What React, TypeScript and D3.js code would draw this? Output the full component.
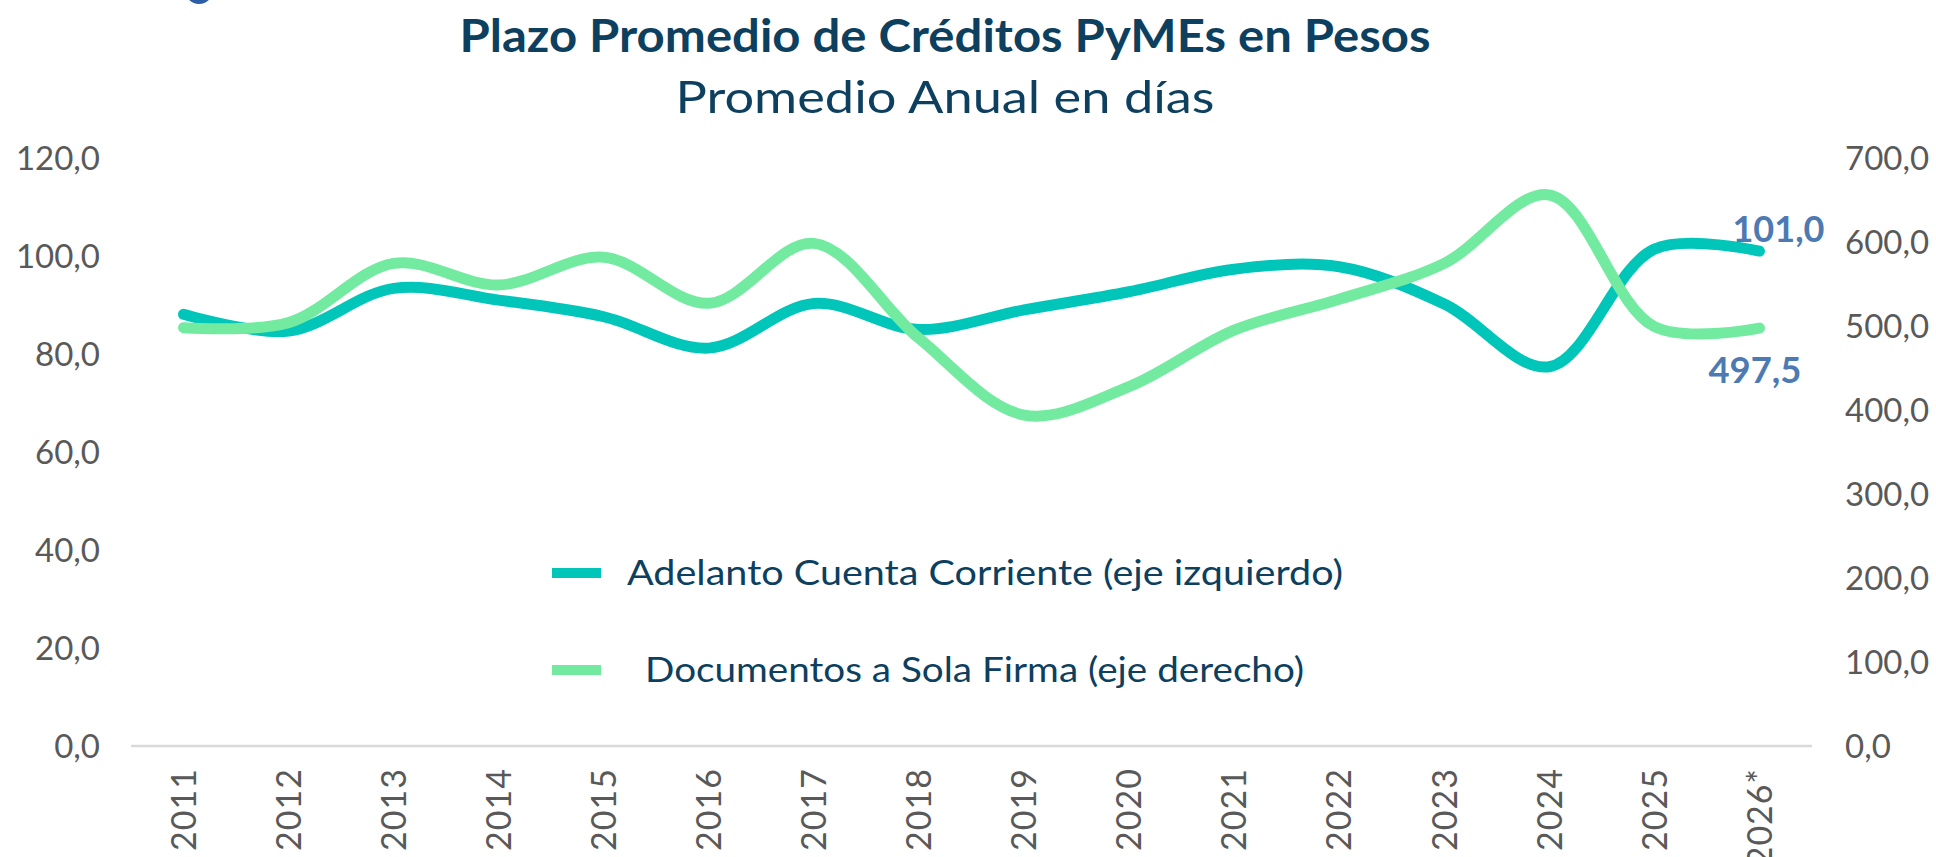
import React from "react";
import * as d3 from "d3";

// values
const years = ["2011", "2012", "2013", "2014", "2015", "2016", "2017", "2018",
    "2019", "2020", "2021", "2022", "2023", "2024", "2025", "2026*"];
const adelanto = [88.1, 84.7, 93.4, 91.0, 87.6, 81.2, 90.3, 85.0,
    89.0, 92.7, 97.3, 97.8, 90.2, 77.4, 101.4, 101.0];
const documentos = [498.0, 504.0, 574.6, 548.8, 581.8, 527.0, 598.4, 485.3,
    394.0, 427.8, 495.0, 531.8, 574.6, 656.0, 499.2, 497.5];
const leftTicks = [0, 20, 40, 60, 80, 100, 120];
const rightTicks = [0, 100, 200, 300, 400, 500, 600, 700];
const seriesNames = ["Adelanto Cuenta Corriente (eje izquierdo)", "Documentos a Sola Firma (eje derecho)"];
const title = "Plazo Promedio de Créditos PyMEs en Pesos";
const subtitle = "Promedio Anual en días";

const TEAL = "#00C6BA";
const GREEN = "#72EBA1";
const NAVY = "#0D3F5F";
const GREY = "#595959";
const LABEL_BLUE = "#4D7AB2";
const FONT = "Lato, 'Open Sans', sans-serif";

const fmt = d3.formatLocale({decimal: ",", thousands: ".", grouping: [3], currency: ["$", ""]}).format(".1f");

// the original font (Century Gothic) is wider than Lato, so stretch to the measured widths
class Legend extends React.Component<any>{
    render(){
        let rows = [
            {name: seriesNames[0], color: TEAL, y: 573, tx: 627, len: 716},
            {name: seriesNames[1], color: GREEN, y: 670, tx: 645, len: 659}
        ];
        return(
            <g>
                {rows.map((r) =>
                    <g key={r.name}>
                        <line x1={552} x2={601} y1={r.y} y2={r.y} stroke={r.color} strokeWidth={10} />
                        <text x={r.tx} y={r.y} dy="0.36em" fontSize={34} fill={NAVY}
                            textLength={r.len} lengthAdjust="spacingAndGlyphs"
                            fontFamily={FONT}>{r.name}</text>
                    </g>
                )}
            </g>
        );
    }
}

export default class App extends React.Component{
    render(){
        let width = 1936, height = 857;
        let x = d3.scalePoint().domain(years).range([131, 1812]).padding(0.5);
        let yL = d3.scaleLinear().domain([0, 120]).range([746, 158]);
        let yR = d3.scaleLinear().domain([0, 700]).range([746, 158]);

        let lineL = d3.line<number>()
            .x((d, i) => x(years[i]) as number)
            .y(d => yL(d))
            .curve(d3.curveCatmullRom.alpha(0.5));
        let lineR = d3.line<number>()
            .x((d, i) => x(years[i]) as number)
            .y(d => yR(d))
            .curve(d3.curveCatmullRom.alpha(0.5));

        let last = years.length - 1;
        let lastX = x(years[last]) as number;

        return(
            <svg width={width} height={height}
                style={{position: "absolute", left: 0, top: 0, background: "#fff"}}>
                {/* cut off logo */}
                <circle cx={199} cy={-10} r={14} fill="#2B5EA7" />

                <text x={945} y={52} textAnchor="middle" fontSize={46} fontWeight={700}
                    textLength={971} lengthAdjust="spacingAndGlyphs"
                    fill={NAVY} fontFamily={FONT}>{title}</text>
                <text x={945} y={113} textAnchor="middle" fontSize={44}
                    textLength={539} lengthAdjust="spacingAndGlyphs"
                    fill={NAVY} fontFamily={FONT}>{subtitle}</text>

                <line x1={131} x2={1812} y1={yL(0)} y2={yL(0)} stroke="#D9D9D9" strokeWidth={2.5} />

                {leftTicks.map(t =>
                    <text key={"l" + t} x={100} y={yL(t)} dy="0.36em" textAnchor="end"
                        fontSize={33} fill={GREY} fontFamily={FONT}>{fmt(t)}</text>
                )}
                {rightTicks.map(t =>
                    <text key={"r" + t} x={1845} y={yR(t)} dy="0.36em"
                        fontSize={33} fill={GREY} fontFamily={FONT}>{fmt(t)}</text>
                )}
                {years.map(yr =>
                    <text key={yr} transform={"translate(" + x(yr) + "," + 768 + ") rotate(-90)"}
                        dy="0.36em" textAnchor="end" fontSize={34} fill={GREY}
                        fontFamily={FONT} letterSpacing={1}>{yr}</text>
                )}

                <path d={lineL(adelanto) as string} fill="none" stroke={TEAL} strokeWidth={11}
                    strokeLinecap="round" strokeLinejoin="round" />
                <path d={lineR(documentos) as string} fill="none" stroke={GREEN} strokeWidth={11}
                    strokeLinecap="round" strokeLinejoin="round" />

                <text x={lastX - 27} y={yL(adelanto[last]) - 9} fontSize={36} fontWeight={700}
                    textLength={92} lengthAdjust="spacingAndGlyphs"
                    fill={LABEL_BLUE} fontFamily={FONT}>{fmt(adelanto[last])}</text>
                <text x={lastX - 51} y={yR(documentos[last]) + 55} fontSize={36} fontWeight={700}
                    textLength={93} lengthAdjust="spacingAndGlyphs"
                    fill={LABEL_BLUE} fontFamily={FONT}>{fmt(documentos[last])}</text>

                <Legend />
            </svg>
        );
    }
}
